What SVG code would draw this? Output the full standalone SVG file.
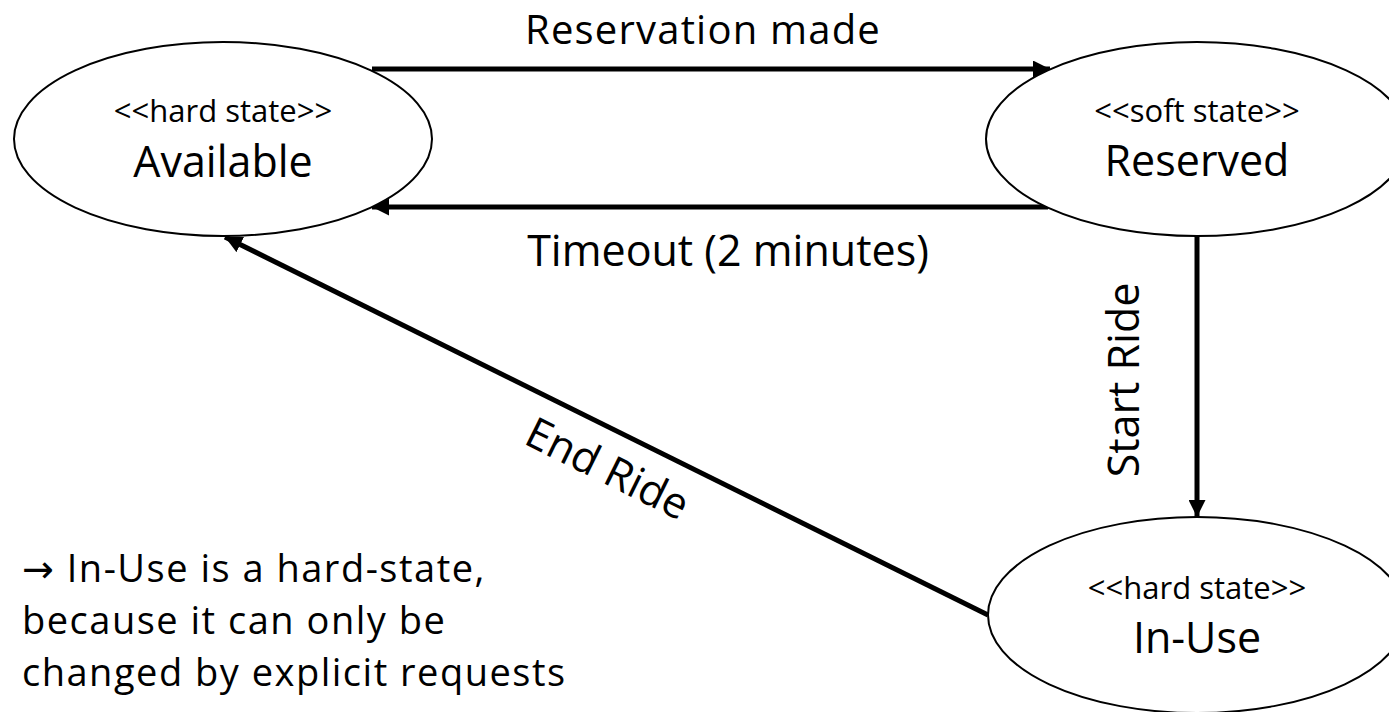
<svg xmlns="http://www.w3.org/2000/svg" width="1389" height="712" viewBox="0 0 1389 712">
  <style>
    text { font-family: "Open Sans", "Noto Sans", "DejaVu Sans", sans-serif; fill: #000; }
    .stereo { font-size: 31px; text-anchor: middle; }
    .name { font-size: 43px; text-anchor: middle; }
    .label { font-size: 43px; text-anchor: middle; }
    .top { font-size: 40px; letter-spacing: 1.2px; }
    .note { font-size: 38px; letter-spacing: 1.5px; }
    .state { fill: #fff; stroke: #000; stroke-width: 2; }
    .edge { stroke: #000; stroke-width: 5; fill: none; }
  </style>
  <defs>
    <marker id="head" viewBox="0 0 10 10" refX="10" refY="5" markerWidth="3.4" markerHeight="3.4" markerUnits="strokeWidth" orient="auto">
      <path d="M0,0 L10,5 L0,10 z" fill="#000"/>
    </marker>
  </defs>

  <!-- transitions -->
  <g id="connectors">
    <line class="edge" x1="372" y1="69" x2="1050" y2="69" marker-end="url(#head)"/>
    <line class="edge" x1="1048" y1="207" x2="372" y2="207" marker-end="url(#head)"/>
    <line class="edge" x1="1197" y1="236" x2="1197" y2="517" marker-end="url(#head)"/>
    <line class="edge" x1="988" y1="615" x2="225" y2="237" marker-end="url(#head)"/>
  </g>

  <g id="state-available">
    <ellipse class="state" cx="223" cy="139" rx="209" ry="97"/>
    <text class="stereo" x="223" y="122">&lt;&lt;hard state&gt;&gt;</text>
    <text class="name" x="223" y="177">Available</text>
  </g>

  <g id="state-reserved">
    <ellipse class="state" cx="1197" cy="139" rx="211" ry="97"/>
    <text class="stereo" x="1197" y="122">&lt;&lt;soft state&gt;&gt;</text>
    <text class="name" x="1197" y="176">Reserved</text>
  </g>

  <g id="state-inuse">
    <ellipse class="state" cx="1197" cy="615" rx="209" ry="98"/>
    <text class="stereo" x="1197" y="599">&lt;&lt;hard state&gt;&gt;</text>
    <text class="name" x="1197" y="653">In-Use</text>
  </g>

  <!-- transition labels -->
  <g id="labels">
    <text class="label top" x="703" y="44">Reservation made</text>
    <text class="label" x="728" y="266">Timeout (2 minutes)</text>
    <text class="label" transform="translate(1139,380) rotate(-90)">Start Ride</text>
    <text class="label" transform="translate(601,482) rotate(26.3)">End Ride</text>
  </g>

  <g id="note">
    <text class="note" x="22" y="582">→ In-Use is a hard-state,</text>
    <text class="note" x="22" y="634">because it can only be</text>
    <text class="note" x="22" y="686">changed by explicit requests</text>
  </g>
</svg>
